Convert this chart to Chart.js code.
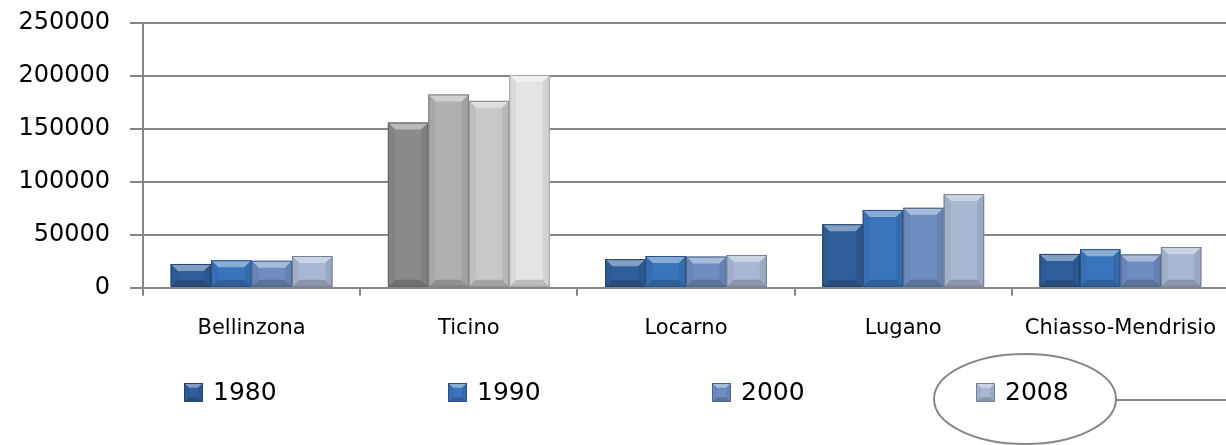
<!DOCTYPE html>
<html>
<head>
<meta charset="utf-8">
<script src="https://cdn.jsdelivr.net/npm/chart.js@4"></script>
<style>
  html, body { margin: 0; padding: 0; background: #fff; overflow: hidden; }
  #wrap { width: 1236px; height: 445px; }
</style>
</head>
<body>
<div id="wrap"><canvas id="grafico" width="1236" height="445"></canvas></div>
<script>
// Dati (popolazione per regione)
const regioni = ['Bellinzona', 'Ticino', 'Locarno', 'Lugano', 'Chiasso-Mendrisio'];
const anni = ['1980', '1990', '2000', '2008'];
const pop1980 = [22500, 156000, 27000, 60000, 32000];
const pop1990 = [26000, 182500, 30000, 73500, 36500];
const pop2000 = [25500, 176500, 29500, 75500, 31500];
const pop2008 = [30000, 201000, 31000, 88500, 38500];
const yTicks = [0, 50000, 100000, 150000, 200000, 250000];

// Colori: blu per le regioni, grigio per il totale Ticino
const colBlu = ['#2F5F9A', '#3A74BC', '#6E8DC1', '#A9B7D3'];
const colGrigio = ['#8A8A8A', '#B0B0B0', '#C8C8C8', '#E4E4E4'];
const FONT = 'DejaVu Sans';
const GRIGIO_ASSI = '#868686';

function mix(hex, target, t) {
    const n = parseInt(hex.slice(1), 16);
    const r = (n >> 16) & 255, g = (n >> 8) & 255, b = n & 255;
    const c = v => Math.round(v + (target - v) * t);
    return 'rgb(' + c(r) + ',' + c(g) + ',' + c(b) + ')';
}

function coloreBarra(i, j) {
    return regioni[j] === 'Ticino' ? colGrigio[i] : colBlu[i];
}

// disegna l'effetto "smussato" sopra un rettangolo
function smussa(ctx, x0, y0, w, h, col) {
    if (h <= 0) return;
    const b = Math.min(7, h / 3, w / 4);
    const x1 = x0 + w, y1 = y0 + h;
    const poly = (pts, fill) => {
        ctx.beginPath();
        ctx.moveTo(pts[0][0], pts[0][1]);
        for (let k = 1; k < pts.length; k++) ctx.lineTo(pts[k][0], pts[k][1]);
        ctx.closePath();
        ctx.fillStyle = fill;
        ctx.fill();
    };
    poly([[x0, y0], [x1, y0], [x1 - b, y0 + b], [x0 + b, y0 + b]], mix(col, 255, 0.4));
    poly([[x0, y1], [x1, y1], [x1 - b, y1 - b], [x0 + b, y1 - b]], mix(col, 0, 0.18));
    poly([[x0, y0], [x0 + b, y0 + b], [x0 + b, y1 - b], [x0, y1]], mix(col, 0, 0.05));
    poly([[x1, y0], [x1 - b, y0 + b], [x1 - b, y1 - b], [x1, y1]], mix(col, 0, 0.08));
    ctx.strokeStyle = mix(col, 0, 0.3);
    ctx.lineWidth = 1;
    ctx.strokeRect(x0 + 0.5, y0 + 0.5, w - 1, h - 1);
}

const pluginSmusso = {
    id: 'smusso',
    afterDatasetsDraw(chart) {
        const ctx = chart.ctx;
        ctx.save();
        chart.data.datasets.forEach((ds, i) => {
            chart.getDatasetMeta(i).data.forEach((bar, j) => {
                const p = bar.getProps(['x', 'y', 'base', 'width'], true);
                smussa(ctx, p.x - p.width / 2, p.y, p.width, p.base - p.y, coloreBarra(i, j));
            });
        });
        ctx.restore();
    }
};

// legenda disegnata a mano + ellisse evidenziata
const pluginLegenda = {
    id: 'legendaManuale',
    afterDraw(chart) {
        const ctx = chart.ctx;
        ctx.save();
        const y = 392;
        let ultimo = null;
        anni.forEach((a, i) => {
            const x = 184 + i * 264;
            ctx.fillStyle = colBlu[i];
            ctx.fillRect(x, y - 9, 19, 19);
            smussa(ctx, x, y - 9, 19, 19, colBlu[i]);
            ctx.fillStyle = '#000';
            ctx.font = '25px "' + FONT + '"';
            ctx.textBaseline = 'middle';
            ctx.fillText(a, x + 29, y + 1);
            ultimo = x;
        });
        // ellisse attorno all'ultimo anno
        const cx = ultimo + 49, cy = 399;
        ctx.strokeStyle = GRIGIO_ASSI;
        ctx.lineWidth = 2;
        ctx.beginPath();
        ctx.ellipse(cx, cy, 91, 45, 0, 0, Math.PI * 2);
        ctx.stroke();
        ctx.beginPath();
        ctx.moveTo(cx + 91, cy + 1);
        ctx.lineTo(chart.width, cy + 1);
        ctx.stroke();
        ctx.restore();
    }
};

const serie = [pop1980, pop1990, pop2000, pop2008];

new Chart(document.getElementById('grafico'), {
    type: 'bar',
    data: {
        labels: regioni,
        datasets: serie.map((valori, i) => ({
            label: anni[i],
            data: valori,
            backgroundColor: regioni.map((r, j) => coloreBarra(i, j)),
            borderWidth: 0,
            categoryPercentage: 0.745,
            barPercentage: 1
        }))
    },
    options: {
        responsive: false,
        animation: false,
        events: [],
        layout: { padding: { top: 23, right: 0, bottom: 84, left: 0 } },
        plugins: {
            legend: { display: false },
            tooltip: { enabled: false }
        },
        scales: {
            x: {
                grid: { drawOnChartArea: false, tickLength: 8, color: GRIGIO_ASSI, lineWidth: 2 },
                border: { color: GRIGIO_ASSI, width: 2 },
                ticks: {
                    color: '#000',
                    font: { family: FONT, size: 21 },
                    padding: 20,
                    maxRotation: 0,
                    autoSkip: false
                }
            },
            y: {
                min: 0,
                max: 250000,
                afterBuildTicks: scale => { scale.ticks = yTicks.map(v => ({ value: v })); },
                afterFit: scale => {
                    scale.width = 143;
                    scale.paddingTop = 0;
                    scale.paddingBottom = 0;
                },
                grid: { color: GRIGIO_ASSI, lineWidth: 2, tickLength: 13 },
                border: { color: GRIGIO_ASSI, width: 2 },
                ticks: {
                    color: '#000',
                    font: { family: FONT, size: 24 },
                    padding: 20,
                    callback: v => String(v)
                }
            }
        }
    },
    plugins: [pluginSmusso, pluginLegenda]
});
</script>
</body>
</html>
